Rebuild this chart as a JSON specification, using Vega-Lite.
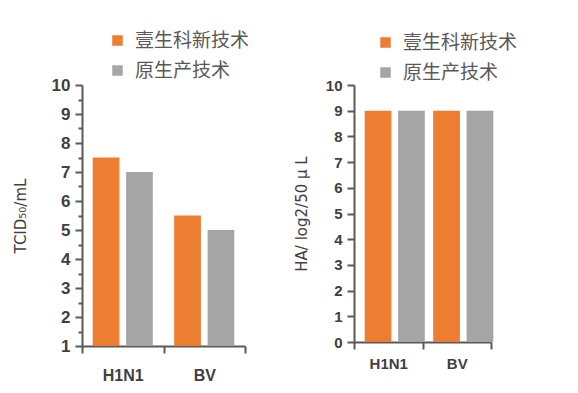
{
  "$schema": "https://vega.github.io/schema/vega-lite/v6.json",
  "background": "white",
  "padding": {"left": 13, "top": 31, "right": 5, "bottom": 5},
  "datasets": {
    "tcid": [
      {"virus": "H1N1", "tech": "壹生科新技术", "value": 7.5},
      {"virus": "H1N1", "tech": "原生产技术", "value": 7},
      {"virus": "BV", "tech": "壹生科新技术", "value": 5.5},
      {"virus": "BV", "tech": "原生产技术", "value": 5}
    ],
    "ha": [
      {"virus": "H1N1", "tech": "壹生科新技术", "value": 9},
      {"virus": "H1N1", "tech": "原生产技术", "value": 9},
      {"virus": "BV", "tech": "壹生科新技术", "value": 9},
      {"virus": "BV", "tech": "原生产技术", "value": 9}
    ]
  },
  "spacing": 109,
  "bounds": "flush",
  "hconcat": [
    {
      "width": 163,
      "height": 261,
      "data": {"name": "tcid"},
      "mark": {"type": "bar"},
      "encoding": {
        "x": {
          "field": "virus", "type": "nominal", "sort": ["H1N1", "BV"],
          "scale": {"paddingInner": 0, "paddingOuter": 0},
          "axis": {"title": null, "labelAngle": 0, "tickBand": "extent", "tickSize": 7, "labelPadding": 14, "labelFontSize": 16}
        },
        "xOffset": {
          "field": "tech", "type": "nominal", "sort": ["壹生科新技术", "原生产技术"],
          "scale": {"paddingInner": 0.2, "paddingOuter": 0.32}
        },
        "y": {
          "field": "value", "type": "quantitative",
          "scale": {"domain": [1, 10], "nice": false, "zero": false},
          "axis": {
            "title": "TCID₅₀/mL",
            "values": [1, 1.5, 2, 2.5, 3, 3.5, 4, 4.5, 5, 5.5, 6, 6.5, 7, 7.5, 8, 8.5, 9, 9.5, 10],
            "labelExpr": "datum.value % 1 === 0 ? format(datum.value, 'd') : ''",
            "tickSize": {"condition": {"test": "datum.value % 1 === 0", "value": 7}, "value": 4},
            "labelFontSize": 17,
            "labelPadding": 5,
            "titlePadding": 23
          }
        },
        "y2": {"datum": 1},
        "color": {
          "field": "tech", "type": "nominal",
          "scale": {"domain": ["壹生科新技术", "原生产技术"], "range": ["#ED7D31", "#A5A5A5"]},
          "legend": {"orient": "none", "legendX": 26, "legendY": -54, "title": null}
        }
      }
    },
    {
      "width": 137,
      "height": 257,
      "data": {"name": "ha"},
      "mark": {"type": "bar"},
      "encoding": {
        "x": {
          "field": "virus", "type": "nominal", "sort": ["H1N1", "BV"],
          "scale": {"paddingInner": 0, "paddingOuter": 0},
          "axis": {"title": null, "labelAngle": 0, "tickBand": "extent", "tickSize": 7, "labelPadding": 7, "labelFontSize": 15}
        },
        "xOffset": {
          "field": "tech", "type": "nominal", "sort": ["壹生科新技术", "原生产技术"],
          "scale": {"paddingInner": 0.18, "paddingOuter": 0.31}
        },
        "y": {
          "field": "value", "type": "quantitative",
          "scale": {"domain": [0, 10], "nice": false},
          "axis": {
            "title": "HA/ log2/50 μ L",
            "values": [0, 1, 2, 3, 4, 5, 6, 7, 8, 9, 10],
            "tickSize": 7,
            "labelFontSize": 15,
            "labelPadding": 5,
            "titlePadding": 16
          }
        },
        "color": {
          "field": "tech", "type": "nominal",
          "scale": {"domain": ["壹生科新技术", "原生产技术"], "range": ["#ED7D31", "#A5A5A5"]},
          "legend": {"orient": "none", "legendX": 22, "legendY": -52, "title": null}
        }
      }
    }
  ],
  "resolve": {"scale": {"color": "independent"}, "legend": {"color": "independent"}},
  "config": {
    "view": {"stroke": null},
    "axis": {
      "grid": false,
      "domainColor": "#595959",
      "domainWidth": 2,
      "tickColor": "#595959",
      "tickWidth": 2,
      "labelFont": "Liberation Sans",
      "labelFontWeight": "bold",
      "labelColor": "#404040",
      "labelOverlap": false,
      "titleFont": "DejaVu Sans",
      "titleFontWeight": "normal",
      "titleFontSize": 15,
      "titleColor": "#404040"
    },
    "legend": {
      "symbolType": "square",
      "symbolSize": 110,
      "symbolStrokeWidth": 0,
      "labelFont": "Noto Sans CJK SC",
      "labelFontSize": 19,
      "labelColor": "#595959",
      "labelOffset": 8,
      "rowPadding": 10,
      "padding": 0
    }
  }
}
